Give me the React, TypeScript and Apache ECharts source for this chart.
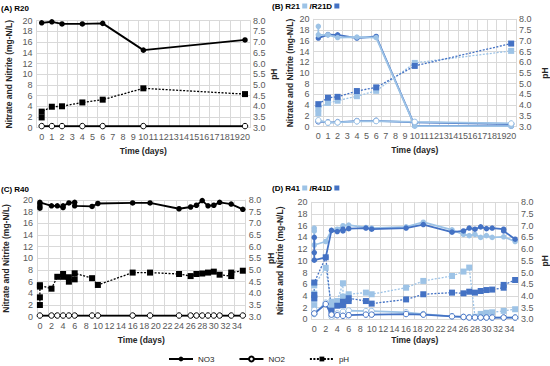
import React, { useEffect, useRef } from 'react';
import * as echarts from 'echarts';

// ---------- tick labels ----------
const X_LABELS_20 = ['0','1','2','3','4','5','6','7','8','9','10','11','12','13','14','15','16','17','18','19','20'];
const X_LABELS_35 = ['0','1','2','3','4','5','6','7','8','9','10','11','12','13','14','15','16','17','18','19','20','21','22','23','24','25','26','27','28','29','30','31','32','33','34','35'];

// ---------- (A) R20 ----------
const A_DAYS = [0, 1, 2, 4, 6, 10, 20];
const A_NO3 = [19.6, 19.8, 19.4, 19.4, 19.5, 14.5, 16.4];
const A_NO2 = [0.3, 0.3, 0.3, 0.3, 0.3, 0.3, 0.3];
const A_PH_DAYS = [0, 0, 1, 2, 4, 6, 10, 20];
const A_PH = [3.48, 3.75, 3.98, 4.0, 4.18, 4.31, 4.84, 4.57];

// ---------- (B) R21 (light) / R21D (dark) ----------
const B_L_NO3_DAYS = [0, 0, 1, 2, 4, 6, 10, 20];
const B_L_NO3 = [18.7, 17.1, 17.1, 16.6, 16.7, 16.6, 0.1, 0.1];
const B_D_NO3_DAYS = [0, 1, 2, 4, 6, 10, 20];
const B_D_NO3 = [16.5, 17.15, 17.1, 16.5, 16.8, 0.2, 0.1];
const B_NO2_DAYS = [0, 1, 2, 4, 6, 10, 20];
const B_L_NO2 = [1.2, 0.75, 0.8, 1.0, 1.05, 0.9, 0.6];
const B_D_NO2 = [1.0, 0.8, 0.85, 1.05, 1.1, 0.8, 0.5];
const B_L_PH_DAYS = [0, 0, 1, 2, 4, 6, 10, 20];
const B_L_PH = [3.62, 3.85, 4.11, 4.21, 4.42, 4.67, 5.97, 6.53];
const B_D_PH_DAYS = [0, 1, 2, 4, 6, 10, 20];
const B_D_PH = [4.05, 4.35, 4.39, 4.66, 4.83, 5.83, 6.87];

// ---------- (C) R40 ----------
const C_NO3_DAYS = [0, 0, 0, 0, 2, 3, 4, 4, 5, 6, 6, 9, 10, 16, 19, 24, 26, 27, 28, 29, 30, 31, 33, 35];
const C_NO3 = [18.6, 18.9, 19.3, 19.6, 19.0, 19.0, 18.7, 19.0, 19.5, 19.6, 19.0, 18.9, 19.4, 19.5, 19.5, 18.5, 18.8, 19.1, 19.9, 19.0, 19.1, 19.6, 19.3, 18.4];
const C_NO2_DAYS = [0, 2, 3, 4, 5, 6, 9, 10, 16, 19, 24, 26, 27, 28, 29, 30, 31, 33, 35];
const C_NO2 = [0.2, 0.2, 0.2, 0.2, 0.2, 0.2, 0.2, 0.2, 0.2, 0.2, 0.2, 0.2, 0.2, 0.2, 0.2, 0.2, 0.2, 0.2, 0.2];
const C_PH_DAYS = [0, 0, 0, 0, 2, 3, 4, 4, 5, 5, 6, 6, 9, 10, 16, 19, 24, 26, 27, 28, 29, 30, 31, 33, 33, 35];
const C_PH = [3.5, 3.83, 4.29, 4.35, 4.2, 4.71, 4.83, 4.71, 4.5, 4.69, 4.6, 4.86, 4.65, 4.36, 4.89, 4.89, 4.83, 4.74, 4.83, 4.85, 4.89, 4.93, 4.8, 4.74, 4.89, 4.97];

// ---------- (D) R41 (light) / R41D (dark) ----------
const D_L_NO3_DAYS = [0, 0, 0, 2, 3, 4, 5, 6, 9, 10, 16, 19, 24, 26, 27, 28, 29, 30, 31, 33, 35];
const D_L_NO3 = [15.6, 15.1, 12.7, 13.3, 15.2, 15.4, 16.0, 16.1, 15.7, 15.6, 15.8, 16.6, 15.3, 14.5, 14.3, 14.5, 14.0, 14.3, 14.0, 14.1, 13.3];
const D_D_NO3_DAYS = [0, 0, 0, 2, 3, 4, 5, 5, 6, 9, 10, 16, 19, 24, 26, 27, 28, 29, 30, 31, 33, 33, 35];
const D_D_NO3 = [14.0, 11.4, 10.1, 10.6, 15.2, 15.0, 15.4, 15.1, 15.5, 15.6, 15.4, 15.6, 16.2, 14.9, 15.1, 15.6, 15.4, 15.8, 15.5, 15.6, 15.4, 15.1, 13.7];
const D_L_NO2_DAYS = [0, 0, 2, 3, 4, 5, 6, 9, 10, 16, 19, 24, 26, 27, 28, 29, 30, 31, 33, 35];
const D_L_NO2 = [1.6, 0.9, 2.85, 0.45, 1.0, 1.3, 1.5, 1.4, 1.4, 1.2, 0.9, 0.5, 0.4, 0.35, 0.3, 0.3, 0.3, 0.3, 0.3, 0.3];
const D_D_NO2_DAYS = [0, 2, 3, 4, 5, 6, 9, 10, 16, 19, 24, 26, 27, 28, 29, 30, 31, 33, 35];
const D_D_NO2 = [1.0, 2.6, 0.8, 0.7, 0.6, 0.7, 0.8, 0.8, 0.9, 0.8, 0.5, 0.4, 0.3, 0.3, 0.3, 0.3, 0.3, 0.3, 0.3];
const D_L_PH_DAYS = [0, 0, 0, 0, 2, 3, 3, 4, 5, 5, 6, 9, 10, 16, 19, 24, 26, 27, 28, 29, 30, 31, 33, 35];
const D_L_PH = [3.6, 3.85, 4.1, 4.45, 5.2, 3.55, 3.75, 3.78, 4.54, 3.97, 4.07, 4.14, 4.07, 4.35, 4.64, 4.85, 5.04, 5.21, 3.11, 3.23, 3.28, 3.3, 3.36, 3.43];
const D_D_PH_DAYS = [0, 0, 0, 2, 3, 4, 5, 5, 6, 6, 9, 10, 16, 19, 24, 26, 27, 28, 29, 30, 31, 33, 33, 35];
const D_D_PH = [3.9, 4.04, 4.57, 5.65, 3.37, 3.58, 3.6, 3.75, 3.78, 3.9, 3.78, 3.67, 3.85, 4.07, 4.14, 4.11, 4.18, 4.14, 4.21, 4.25, 4.27, 4.35, 4.47, 4.68];

// ---------- styling / layout ----------
const LIGHT = '#9DC3E6';
const DARK = '#4472C4';
const BLACK = '#000000';
const GRID_COLOR = '#d9d9d9';
const LABEL_COLOR = '#595959';
const FONT = '"Liberation Sans", Arial, sans-serif';

const GRIDS = [
  { left: 36.6, top: 20.7, width: 213.5, height: 107 },
  { left: 313.5, top: 19.3, width: 203.2, height: 107.4 },
  { left: 36.1, top: 200, width: 209.6, height: 116.7 },
  { left: 311.4, top: 202.3, width: 207, height: 117 },
];
const X_NAME_GAP = [19, 19, 19, 16];
const Y_NAME_GAP = [23, 19.5, 27, 27];
const PH_NAME_GAP = [17, 24, 21, 22];

type Kind = 'NO3' | 'NO2' | 'pH';

function makeSeries(name: string, grid: number, kind: Kind, color: string, days: number[], vals: number[], z = 2) {
  const isPH = kind === 'pH';
  return {
    name,
    type: 'line',
    xAxisIndex: grid,
    yAxisIndex: grid * 2 + (isPH ? 1 : 0),
    data: days.map((d, i) => [d, vals[i]]),
    symbol: isPH ? 'rect' : 'circle',
    symbolSize: isPH ? 6 : 5.5,
    showSymbol: true,
    showAllSymbol: true,
    lineStyle: { color, width: isPH ? 1.3 : 1.8, type: isPH ? [2, 1.5] : 'solid' },
    itemStyle:
      kind === 'NO2'
        ? { color: '#ffffff', borderColor: color, borderWidth: 1 }
        : { color, borderColor: color, borderWidth: 0 },
    emphasis: { disabled: true },
    z,
  };
}

export default function App() {
  const ref = useRef<HTMLDivElement>(null);

  useEffect(() => {
    document.body.style.margin = '0';
    const chart = echarts.init(ref.current!, null, { renderer: 'svg' });

    const xAxis = GRIDS.map((_, i) => {
      const long = i >= 2;
      return {
        type: 'category',
        gridIndex: i,
        data: long ? X_LABELS_35 : X_LABELS_20,
        boundaryGap: true,
        axisLine: { show: true, lineStyle: { color: GRID_COLOR, width: 1 } },
        axisTick: { show: false },
        axisLabel: { interval: long ? 1 : 0, fontSize: 9, color: LABEL_COLOR, margin: 5, fontFamily: FONT },
        splitLine: { show: true, interval: long ? 1 : 0, lineStyle: { color: GRID_COLOR, width: 1 } },
        name: 'Time (days)',
        nameLocation: 'middle',
        nameGap: X_NAME_GAP[i],
        nameTextStyle: { fontWeight: 'bold', fontSize: 8.5, color: '#262626', fontFamily: FONT },
      };
    });

    const yAxis: any[] = [];
    GRIDS.forEach((_, i) => {
      yAxis.push({
        type: 'value',
        gridIndex: i,
        position: 'left',
        min: 0,
        max: 20,
        interval: 2,
        axisLine: { show: true, lineStyle: { color: GRID_COLOR, width: 1 } },
        axisTick: { show: false },
        axisLabel: { fontSize: 9, color: LABEL_COLOR, margin: 4, fontFamily: FONT },
        splitLine: { show: true, lineStyle: { color: GRID_COLOR, width: 1 } },
        name: 'Nitrate and Nitrite (mg-N/L)',
        nameLocation: 'middle',
        nameRotate: 90,
        nameGap: Y_NAME_GAP[i],
        nameTextStyle: { fontWeight: 'bold', fontSize: 8.5, color: '#262626', fontFamily: FONT },
      });
      yAxis.push({
        type: 'value',
        gridIndex: i,
        position: 'right',
        min: 3,
        max: 8,
        interval: 0.5,
        axisLine: { show: true, lineStyle: { color: GRID_COLOR, width: 1 } },
        axisTick: { show: false },
        axisLabel: { fontSize: 9, color: LABEL_COLOR, margin: 3, fontFamily: FONT, formatter: (v: number) => v.toFixed(1) },
        splitLine: { show: false },
        name: 'pH',
        nameLocation: 'middle',
        nameRotate: 90,
        nameGap: PH_NAME_GAP[i],
        nameTextStyle: { fontWeight: 'bold', fontSize: 8.5, color: '#262626', fontFamily: FONT },
      });
    });

    const series = [
      // A
      makeSeries('NO3', 0, 'NO3', BLACK, A_DAYS, A_NO3),
      makeSeries('NO2', 0, 'NO2', BLACK, A_DAYS, A_NO2),
      makeSeries('pH', 0, 'pH', BLACK, A_PH_DAYS, A_PH),
      // B
      makeSeries('R21 pH', 1, 'pH', LIGHT, B_L_PH_DAYS, B_L_PH),
      makeSeries('R21D pH', 1, 'pH', DARK, B_D_PH_DAYS, B_D_PH),
      makeSeries('R21D NO3', 1, 'NO3', DARK, B_D_NO3_DAYS, B_D_NO3),
      makeSeries('R21 NO3', 1, 'NO3', LIGHT, B_L_NO3_DAYS, B_L_NO3, 3),
      makeSeries('R21D NO2', 1, 'NO2', DARK, B_NO2_DAYS, B_D_NO2),
      makeSeries('R21 NO2', 1, 'NO2', LIGHT, B_NO2_DAYS, B_L_NO2, 3),
      // C
      makeSeries('NO3', 2, 'NO3', BLACK, C_NO3_DAYS, C_NO3),
      makeSeries('NO2', 2, 'NO2', BLACK, C_NO2_DAYS, C_NO2),
      makeSeries('pH', 2, 'pH', BLACK, C_PH_DAYS, C_PH),
      // D
      makeSeries('R41 pH', 3, 'pH', LIGHT, D_L_PH_DAYS, D_L_PH),
      makeSeries('R41D pH', 3, 'pH', DARK, D_D_PH_DAYS, D_D_PH),
      makeSeries('R41 NO3', 3, 'NO3', LIGHT, D_L_NO3_DAYS, D_L_NO3),
      makeSeries('R41D NO3', 3, 'NO3', DARK, D_D_NO3_DAYS, D_D_NO3, 3),
      makeSeries('R41 NO2', 3, 'NO2', LIGHT, D_L_NO2_DAYS, D_L_NO2),
      makeSeries('R41D NO2', 3, 'NO2', DARK, D_D_NO2_DAYS, D_D_NO2, 3),
    ];

    const titleFont = `bold 8px ${FONT}`;
    const option: any = {
      animation: false,
      textStyle: { fontFamily: FONT },
      grid: GRIDS.map((g) => ({ ...g, containLabel: false })),
      xAxis,
      yAxis,
      series,
      legend: {
        data: ['NO3', 'NO2', 'pH'],
        left: 168,
        top: 355,
        padding: 0,
        itemWidth: 24,
        itemHeight: 6,
        itemGap: 24,
        selectedMode: false,
        textStyle: { fontSize: 8, color: '#262626', fontFamily: FONT },
      },
      graphic: [
        { type: 'text', x: 1, y: 4, style: { text: '(A) R20', font: titleFont, fill: '#000' } },
        {
          type: 'text', x: 272, y: 2,
          style: {
            text: '(B) R21 {l|} /R21D {d|}', font: titleFont, fill: '#000',
            rich: { l: { width: 5, height: 5, backgroundColor: LIGHT }, d: { width: 5, height: 5, backgroundColor: DARK } },
          },
        },
        { type: 'text', x: 1, y: 185, style: { text: '(C) R40', font: titleFont, fill: '#000' } },
        {
          type: 'text', x: 272, y: 184,
          style: {
            text: '(D) R41 {l|} /R41D {d|}', font: titleFont, fill: '#000',
            rich: { l: { width: 5, height: 5, backgroundColor: LIGHT }, d: { width: 5, height: 5, backgroundColor: DARK } },
          },
        },
      ],
    };

    chart.setOption(option);
    return () => chart.dispose();
  }, []);

  return <div ref={ref} style={{ width: 550, height: 366 }} />;
}
